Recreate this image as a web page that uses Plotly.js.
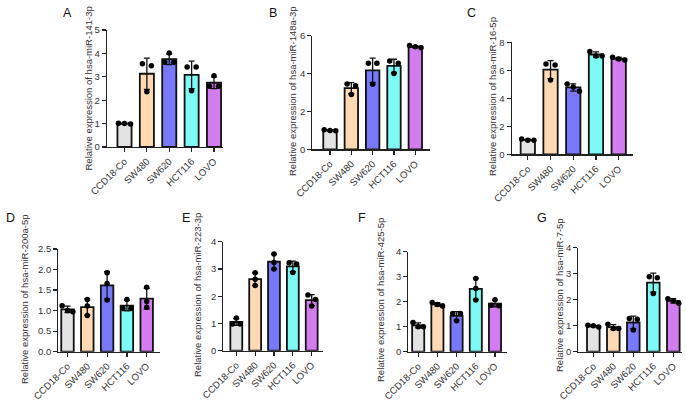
<!DOCTYPE html>
<html>
<head>
<meta charset="utf-8">
<script src="https://cdn.plot.ly/plotly-3.0.1.min.js"></script>
<style>
  html, body { margin: 0; padding: 0; background: #fff; }
  #chart { width: 686px; height: 401px; }
</style>
</head>
<body>
<div id="chart"></div>
<script>
// ---------------- DATA ----------------
const categories = ['CCD18-Co', 'SW480', 'SW620', 'HCT116', 'LOVO'];

// replicate values (3 per cell line)
const mir141_3p  = [[1.00, 1.02, 0.98], [3.47, 3.56, 2.36], [4.02, 3.62, 3.62], [3.42, 3.42, 2.40], [3.04, 2.60, 2.60]];
const mir148a_3p = [[0.99, 1.03, 0.98], [3.35, 3.45, 2.90], [4.54, 4.54, 3.43], [4.67, 4.54, 4.01], [5.37, 5.48, 5.41]];
const mir16_5p   = [[1.00, 1.10, 1.00], [6.38, 6.45, 5.31], [4.80, 5.02, 4.50], [7.35, 7.02, 7.02], [6.93, 6.81, 6.74]];
const mir200a_5p = [[1.12, 1.00, 0.97], [1.27, 1.11, 0.88], [1.92, 1.66, 1.26], [1.27, 1.05, 1.05], [1.57, 1.22, 1.08]];
const mir223_3p  = [[1.20, 0.98, 0.98], [2.86, 2.62, 2.39], [3.55, 3.24, 3.00], [3.23, 3.18, 2.87], [2.04, 1.88, 1.64]];
const mir425_5p  = [[1.17, 1.00, 1.00], [1.97, 1.89, 1.83], [1.53, 1.53, 1.24], [2.93, 2.53, 2.07], [2.08, 1.86, 1.84]];
const mir7_5p    = [[1.00, 1.02, 0.95], [1.06, 0.89, 0.89], [1.28, 1.25, 0.84], [2.89, 2.85, 2.24], [2.04, 1.96, 1.87]];

const panelData   = [mir141_3p, mir148a_3p, mir16_5p, mir200a_5p, mir223_3p, mir425_5p, mir7_5p];
const panelLabels = ['A', 'B', 'C', 'D', 'E', 'F', 'G'];
const yTitles = [
  'Relative expression of hsa-miR-141-3p',
  'Relative expression of hsa-miR-148a-3p',
  'Relative expression of hsa-miR-16-5p',
  'Relative expression of hsa-miR-200a-5p',
  'Relative expression of hsa-miR-223-3p',
  'Relative expression of hsa-miR-425-5p',
  'Relative expression of hsa-miR-7-5p'
];
const yTickVals = [
  [0, 1, 2, 3, 4, 5],
  [0, 2, 4, 6],
  [0, 2, 4, 6, 8],
  [0, 0.5, 1.0, 1.5, 2.0, 2.5],
  [0, 1, 2, 3, 4],
  [0, 1, 2, 3, 4],
  [0, 1, 2, 3, 4]
];
const yTickFormats = ['d', 'd', 'd', '.1f', 'd', 'd', 'd'];

// ---------------- STYLE / GEOMETRY (pixels) ----------------
const barColors = ['#e3e3e3', '#fed9b4', '#7878fa', '#7dfaf6', '#d27cf0'];
const W = 686, H = 401;
// axis x0 (y-axis line), centre of first & last bar, x-axis end, y of 0, y of top tick,
// title x / centre y, panel letter position
const geom = [
  {x0: 107.0, c0: 124.5, c4: 214.0, x1: 223.0, yb: 147.0, yt: 30.0,  tx: 88,  ty: 88.5,  lx: 67,  ly: 13},
  {x0: 312.3, c0: 330.0, c4: 415.3, x1: 430.0, yb: 149.3, yt: 35.7,  tx: 293, ty: 91,    lx: 273, ly: 13},
  {x0: 511.7, c0: 527.8, c4: 618.7, x1: 633.3, yb: 154.3, yt: 42.3,  tx: 492, ty: 97,    lx: 471, ly: 13},
  {x0: 58.3,  c0: 67.5,  c4: 146.7, x1: 160.0, yb: 351.7, yt: 249.0, tx: 24,  ty: 299,   lx: 10,  ly: 218},
  {x0: 223.3, c0: 236.3, c4: 311.7, x1: 323.3, yb: 350.7, yt: 241.7, tx: 197, ty: 295,   lx: 186, ly: 218},
  {x0: 408.3, c0: 418.2, c4: 495.0, x1: 506.7, yb: 351.7, yt: 251.7, tx: 380, ty: 300,   lx: 362, ly: 218},
  {x0: 578.3, c0: 593.3, c4: 673.3, x1: 681.7, yb: 351.7, yt: 247.8, tx: 559, ty: 295,   lx: 542, ly: 218}
];

function mean(a) { return a.reduce((s, v) => s + v, 0) / a.length; }
function sd(a) {
  const m = mean(a);
  return Math.sqrt(a.reduce((s, v) => s + (v - m) * (v - m), 0) / (a.length - 1));
}
// spread dots sideways only when they would overlap (GraphPad-like scatter)
function dotOffsets(vals, ymax) {
  const idx = vals.map((v, i) => i).sort((a, b) => vals[b] - vals[a]);
  const thr = 0.05 * ymax;
  const clusters = [];
  idx.forEach(i => {
    const last = clusters[clusters.length - 1];
    if (last && Math.abs(vals[last[last.length - 1]] - vals[i]) < thr) last.push(i);
    else clusters.push([i]);
  });
  const off = new Array(vals.length).fill(0);
  clusters.forEach(c => {
    if (c.length === 2) { off[c[0]] = -0.2; off[c[1]] = 0.2; }
    else if (c.length >= 3) c.forEach((i, k) => { off[i] = (k - (c.length - 1) / 2) * 0.27; });
  });
  return off;
}

const traces = [];
const layout = {
  width: W, height: H,
  margin: {l: 0, r: 0, t: 0, b: 0},
  paper_bgcolor: '#ffffff', plot_bgcolor: 'rgba(0,0,0,0)',
  showlegend: false,
  font: {family: 'Liberation Sans, Arial, sans-serif', color: '#222', size: 9},
  annotations: []
};

panelData.forEach((reps, p) => {
  const g = geom[p];
  const sfx = p === 0 ? '' : String(p + 1);
  const xa = 'x' + sfx, ya = 'y' + sfx;
  const ticks = yTickVals[p];
  const ymax = ticks[ticks.length - 1];
  const unit = (g.c4 - g.c0) / 4;
  const xs = categories.map((c, i) => i);

  traces.push({
    type: 'bar', x: xs, y: reps.map(mean), xaxis: xa, yaxis: ya,
    width: 0.63,
    marker: {color: barColors, line: {color: '#111', width: 1.8}},
    error_y: {type: 'data', array: reps.map(sd), visible: true, color: '#111', thickness: 1.3, width: 3},
    hoverinfo: 'skip'
  });
  const dx = [], dy = [];
  reps.forEach((vals, i) => {
    const off = dotOffsets(vals, ymax);
    vals.forEach((v, k) => { dx.push(i + off[k]); dy.push(v); });
  });
  traces.push({
    type: 'scatter', mode: 'markers', x: dx, y: dy, xaxis: xa, yaxis: ya,
    marker: {color: '#000', size: 5.5}, cliponaxis: false, hoverinfo: 'skip'
  });

  layout['xaxis' + sfx] = {
    domain: [g.x0 / W, g.x1 / W],
    range: [(g.x0 - g.c0) / unit, (g.x1 - g.c0) / unit],
    anchor: ya, showgrid: false, zeroline: false,
    showline: true, linecolor: '#222', linewidth: 1.2,
    ticks: 'outside', ticklen: 4, tickwidth: 1.2, tickcolor: '#222',
    tickvals: xs, ticktext: categories, tickangle: -45,
    tickfont: {size: 9.6, color: '#333'}, fixedrange: true
  };
  layout['yaxis' + sfx] = {
    domain: [1 - g.yb / H, 1 - g.yt / H],
    range: [0, ymax], anchor: xa, showgrid: false, zeroline: false,
    showline: true, linecolor: '#222', linewidth: 1.2,
    ticks: 'outside', ticklen: 4, tickwidth: 1.2, tickcolor: '#222',
    tickvals: ticks, tickformat: yTickFormats[p],
    tickfont: {size: 9.5, color: '#333'}, fixedrange: true
  };
  layout.annotations.push({
    xref: 'paper', yref: 'paper', x: g.tx / W, y: 1 - g.ty / H,
    text: yTitles[p], textangle: -90, showarrow: false,
    xanchor: 'center', yanchor: 'middle',
    font: {size: 9.5, color: '#333'}
  });
  layout.annotations.push({
    xref: 'paper', yref: 'paper', x: g.lx / W, y: 1 - g.ly / H,
    text: panelLabels[p], showarrow: false,
    xanchor: 'center', yanchor: 'middle',
    font: {size: 12.5, color: '#111'}
  });
});

Plotly.newPlot('chart', traces, layout, {displayModeBar: false, staticPlot: true});
</script>
</body>
</html>
